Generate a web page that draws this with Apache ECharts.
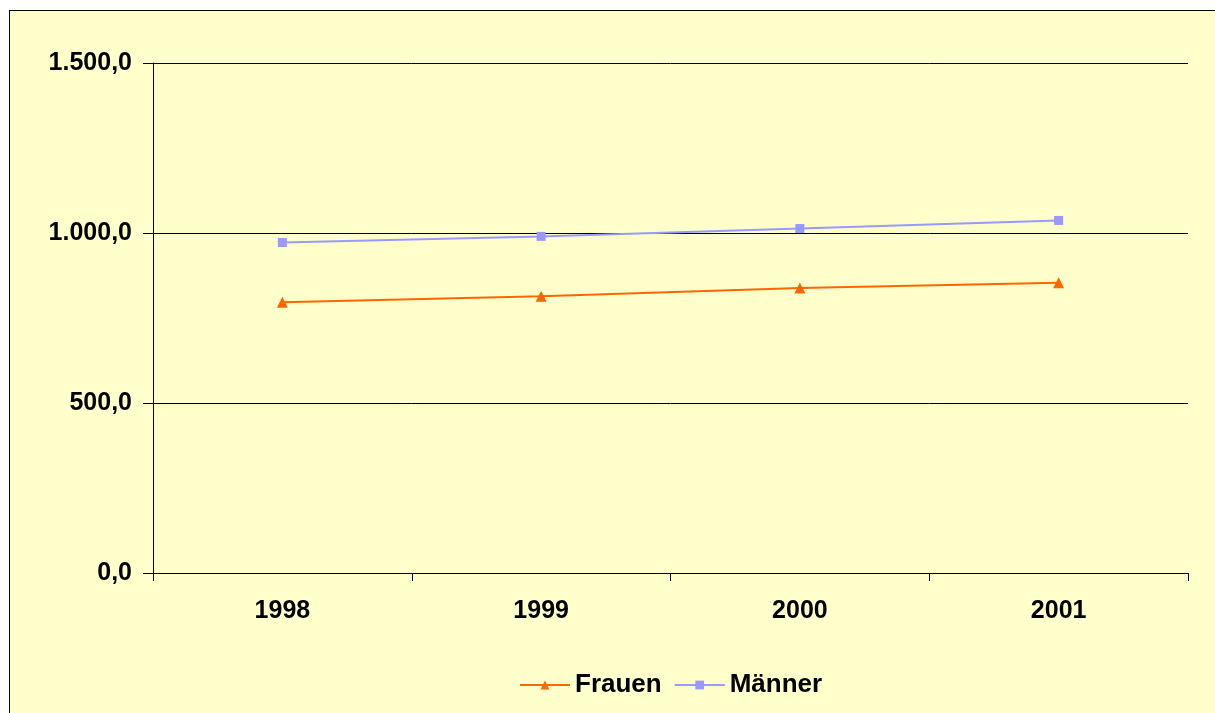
<!DOCTYPE html>
<html>
<head>
<meta charset="utf-8">
<script src="https://cdn.jsdelivr.net/npm/echarts@6/dist/echarts.min.js"></script>
<style>
  html, body { margin: 0; padding: 0; background: #fff; overflow: hidden; }
  .frame {
    position: absolute; left: 9px; top: 10px; width: 1230px; height: 720px;
    border: 1px solid #000; background: #ffffcc;
  }
  #chart { position: absolute; left: 0; top: 0; width: 1215px; height: 713px; }
</style>
</head>
<body>
<div class="frame"></div>
<div id="chart"></div>
<script>
  const years = ["1998", "1999", "2000", "2001"];
  const frauen = [796, 814, 838, 854];
  const maenner = [972, 990, 1013, 1037];

  const font = "'Liberation Sans', Arial, sans-serif";

  function fmt(v) {
    const s = Math.round(v).toString().replace(/\B(?=(\d{3})+(?!\d))/g, ".");
    return s + ",0";
  }

  const option = {
    backgroundColor: "transparent",
    animation: false,
    grid: { left: 153, right: 27, top: 63, bottom: 140 },
    legend: {
      left: 514,
      top: 667,
      itemWidth: 50,
      itemHeight: 11,
      itemGap: 12,
      textStyle: { fontFamily: font, fontSize: 26, fontWeight: "bold", color: "#000" },
      data: ["Frauen", "Männer"],
    },
    xAxis: {
      type: "category",
      data: years,
      boundaryGap: true,
      axisLine: { lineStyle: { color: "#000", width: 1 } },
      axisTick: { show: true, length: 8, lineStyle: { color: "#000" } },
      axisLabel: { fontFamily: font, fontSize: 25, fontWeight: "bold", color: "#000", margin: 26 },
    },
    yAxis: {
      type: "value",
      min: 0,
      max: 1500,
      interval: 500,
      axisLine: { show: true, lineStyle: { color: "#000", width: 1 } },
      axisTick: { show: true, length: 10, lineStyle: { color: "#000" } },
      splitLine: { lineStyle: { color: "#000", width: 1 } },
      axisLabel: {
        fontFamily: font, fontSize: 25, fontWeight: "bold", color: "#000", margin: 21,
        formatter: fmt,
      },
    },
    series: [
      {
        name: "Frauen",
        type: "line",
        data: frauen,
        symbol: "triangle",
        symbolSize: 11,
        lineStyle: { color: "#ff6600", width: 2 },
        itemStyle: { color: "#ff6600" },
      },
      {
        name: "Männer",
        type: "line",
        data: maenner,
        symbol: "rect",
        symbolSize: 9,
        lineStyle: { color: "#9999ff", width: 2 },
        itemStyle: { color: "#9999ff" },
      },
    ],
  };

  const myChart = echarts.init(document.getElementById("chart"));
  myChart.setOption(option);
</script>
</body>
</html>
